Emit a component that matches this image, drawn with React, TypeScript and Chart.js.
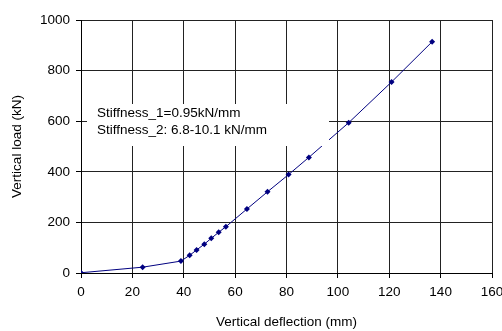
import React, { useEffect, useRef } from "react";
import { Chart, registerables } from "chart.js";

Chart.register(...registerables);

const deflection = [0, 24, 38.9, 42.3, 45, 48, 50.7, 53.6, 56.4, 64.6, 72.6, 80.8, 88.7, 104.2, 120.9, 136.7];
const load = [1, 23, 47, 70, 91, 114, 137, 161, 183, 253, 321, 389, 457, 594, 755, 914];
const xTitle = "Vertical deflection (mm)";
const yTitle = "Vertical load (kN)";
const noteLines = ["Stiffness_1=0.95kN/mm", "Stiffness_2: 6.8-10.1 kN/mm"];

const FONT = "'Liberation Sans', Arial, sans-serif";

const notePlugin = {
  id: "noteBox",
  afterDatasetsDraw(chart: any) {
    const ctx = chart.ctx;
    const a = chart.chartArea;
    ctx.save();
    ctx.fillStyle = "#fff";
    ctx.fillRect(a.left + 6, a.top + 84, 242, 42);
    ctx.fillStyle = "#000";
    ctx.font = `13.5px ${FONT}`;
    ctx.textBaseline = "middle";
    ctx.textAlign = "left";
    noteLines.forEach((t, i) => {
      ctx.fillText(t, a.left + 16, a.top + 93 + i * 17);
    });
    ctx.restore();
  },
};

export default function App() {
  const ref = useRef<HTMLCanvasElement>(null);
  useEffect(() => {
    if (!ref.current) return;
    const chart = new Chart(ref.current, {
      type: "scatter",
      data: {
        datasets: [
          {
            data: deflection.map((x, i) => ({ x, y: load[i] })),
            showLine: true,
            borderColor: "#000080",
            backgroundColor: "#000080",
            borderWidth: 1,
            pointStyle: "rectRot",
            pointRadius: 3,
            pointBorderWidth: 0,
          },
        ],
      },
      options: {
        responsive: false,
        animation: false,
        layout: { padding: { left: 0, top: 20, right: 10, bottom: 0 } },
        plugins: { legend: { display: false }, tooltip: { enabled: false } },
        scales: {
          x: {
            type: "linear",
            min: 0,
            max: 160,
            ticks: { stepSize: 20, color: "#000", font: { family: FONT, size: 13.5 }, padding: 6, callback: (v: any) => String(v) },
            grid: { color: "#222", lineWidth: 1, tickLength: 5, tickColor: "#000" },
            border: { color: "#000", width: 1 },
            title: { display: true, text: xTitle, color: "#000", font: { family: FONT, size: 13.5 }, padding: { top: 0, bottom: 1 } },
            afterFit(s: any) {
              s.height = 58;
              s.paddingRight = 0;
              s.paddingLeft = 0;
            },
          },
          y: {
            type: "linear",
            min: 0,
            max: 1000,
            ticks: { stepSize: 200, color: "#000", font: { family: FONT, size: 13.5 }, padding: 6, callback: (v: any) => String(v) },
            grid: { color: "#222", lineWidth: 1, tickLength: 5, tickColor: "#000" },
            border: { color: "#000", width: 1 },
            title: { display: true, text: yTitle, color: "#000", font: { family: FONT, size: 13.5 }, padding: { top: 9, bottom: 0 } },
            afterFit(s: any) {
              s.width = 81;
              s.paddingTop = 0;
              s.paddingBottom = 0;
            },
          },
        },
      },
      plugins: [notePlugin],
    });
    return () => chart.destroy();
  }, []);
  return (
    <div style={{ position: "absolute", left: 0, top: 0, width: 502, height: 331, background: "#fff" }}>
      <canvas ref={ref} width={502} height={331} />
    </div>
  );
}
